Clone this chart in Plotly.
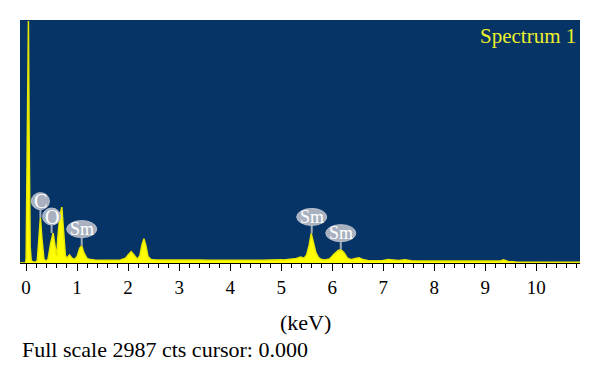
import plotly.graph_objects as go

# Spectrum vertices (energy in keV, counts)
energy = [-0.12, -0.01, 0.0, 0.02, 0.035, 0.045, 0.06, 0.08, 0.1, 0.14, 0.2, 0.22, 0.25, 0.28, 0.31, 0.35,
          0.39, 0.43, 0.48, 0.53, 0.57, 0.6, 0.62, 0.66, 0.70, 0.74, 0.77, 0.8, 0.85, 0.9, 0.95,
          1.0, 1.05, 1.09, 1.13, 1.19, 1.25, 1.35, 1.45, 1.55, 1.65, 1.75, 1.85, 1.95, 2.0,
          2.06, 2.12, 2.18, 2.23, 2.27, 2.31, 2.35, 2.39, 2.45, 2.55, 2.7, 2.85, 3.0, 3.2,
          3.4, 3.6, 3.8, 4.0, 4.2, 4.4, 4.6, 4.8, 4.95, 5.0, 5.05, 5.15, 5.3, 5.38, 5.45,
          5.5, 5.55, 5.59, 5.63, 5.68, 5.73, 5.78, 5.85, 5.95, 6.04, 6.12, 6.17, 6.23,
          6.3, 6.38, 6.46, 6.53, 6.6, 6.7, 6.85, 7.0, 7.1, 7.2, 7.3, 7.43, 7.55, 7.7,
          7.9, 8.1, 8.3, 8.5, 8.7, 8.9, 9.1, 9.3, 9.36, 9.45, 9.6, 9.9, 10.3, 10.9]
counts = [0, 0, 60, 1500, 2950, 2987, 1500, 200, 30, 12, 12, 40, 300, 560, 300, 50,
          20, 50, 240, 370, 200, 80, 300, 580, 690, 340, 90, 60, 100, 60, 45,
          80, 180, 215, 130, 60, 42, 38, 35, 40, 36, 34, 38, 60, 100,
          140, 95, 48, 90, 220, 300, 210, 80, 42, 38, 36, 38, 40, 35,
          36, 34, 33, 34, 32, 33, 35, 38, 45, 40, 36, 40, 55, 75, 60,
          100, 220, 365, 270, 130, 70, 45, 38, 50, 110, 155, 165, 130,
          60, 42, 55, 65, 42, 32, 28, 30, 42, 32, 30, 40, 28, 26,
          25, 24, 24, 23, 22, 22, 22, 24, 40, 20, 12, 10, 9, 8]

# Element labels
label_text = ["C", "O", "Sm", "Sm", "Sm"]
label_energy = [0.28, 0.50, 1.09, 5.60, 6.17]
label_peak = [560, 370, 215, 365, 165]

x_range = [-0.12, 10.86]
y_range = [0, 3000]
plot_w_px = 560
plot_h_px = 243
kev_per_px = (x_range[1] - x_range[0]) / plot_w_px
cts_per_px = (y_range[1] - y_range[0]) / plot_h_px

fig = go.Figure()
fig.add_trace(go.Scatter(x=energy, y=counts, mode="lines", fill="tozeroy",
                         line=dict(color="#e8e800", width=1.5), fillcolor="#ffff00",
                         hoverinfo="skip", showlegend=False))

shapes = []
for t, e, p in zip(label_text, label_energy, label_peak):
    w = 30 if len(t) > 1 else 18
    h = 17
    gap = 8
    cy = p + (gap + h / 2) * cts_per_px
    shapes.append(dict(type="line", xref="x", yref="y", x0=e, x1=e, y0=p,
                       y1=cy, line=dict(color="#a4adbb", width=2)))
    shapes.append(dict(type="circle", xref="x", yref="y",
                       x0=e - w / 2 * kev_per_px, x1=e + w / 2 * kev_per_px,
                       y0=cy - h / 2 * cts_per_px, y1=cy + h / 2 * cts_per_px,
                       fillcolor="#a9b1c0", line=dict(color="#b8bfcc", width=1)))
    fig.add_annotation(x=e, y=cy, xref="x", yref="y", text=t, showarrow=False,
                       font=dict(family="Liberation Serif", size=20 if len(t) == 1 else 18, color="white"))

# the page adds an 8px body margin, so the figure is drawn 8px in from the top-left
fig.update_layout(
    width=592, height=373,
    margin=dict(l=12, r=20, t=12, b=118),
    paper_bgcolor="white", plot_bgcolor="#073467",
    shapes=shapes,
    font=dict(family="Liberation Serif", size=18, color="black"),
    xaxis=dict(range=x_range, tickmode="array", tickvals=list(range(11)),
               ticktext=[str(i) for i in range(11)], showgrid=False, zeroline=False,
               ticks="outside", ticklen=7, tickcolor="black", tickwidth=1,
               showline=True, linecolor="black", linewidth=1,
               minor=dict(dtick=0.2, tick0=0, ticks="outside", ticklen=4, tickcolor="black", showgrid=False),
               tickfont=dict(size=19)),
    yaxis=dict(range=y_range, showgrid=False, zeroline=False, showticklabels=False, ticks=""),
)
fig.add_annotation(xref="paper", yref="paper", x=0.996, y=0.99, xanchor="right", yanchor="top",
                   text="Spectrum 1", showarrow=False,
                   font=dict(family="Liberation Serif", size=21, color="#ecf02a"))
fig.add_annotation(xref="paper", yref="paper", x=0.51, y=-0.245, xanchor="center", yanchor="middle",
                   text="(keV)", showarrow=False, font=dict(size=22))
fig.add_annotation(xref="paper", yref="paper", x=0.0, y=-0.355, xanchor="left", yanchor="middle",
                   text="Full scale 2987 cts cursor: 0.000", showarrow=False, font=dict(size=22))

fig.write_html("out.html")
